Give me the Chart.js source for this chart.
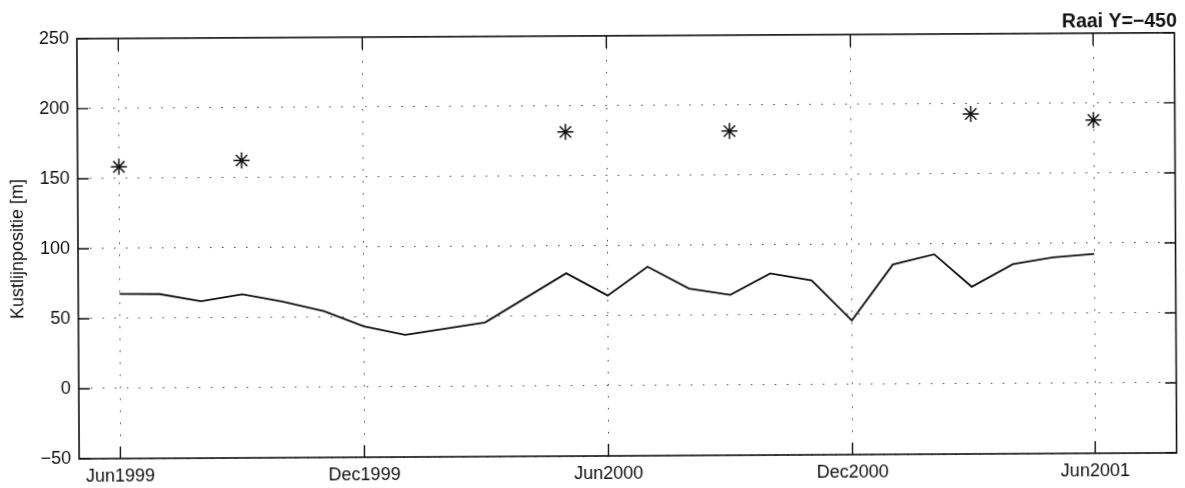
<!DOCTYPE html>
<html>
<head>
<meta charset="utf-8">
<script src="https://cdn.jsdelivr.net/npm/chart.js@4/dist/chart.umd.min.js"></script>
<style>
  html, body { margin: 0; padding: 0; background: #fff; overflow: hidden; }
  /* the scanned figure is tilted a little */
  #kust { display: block; transform: rotate(-0.31deg); transform-origin: 50% 50%; }
</style>
</head>
<body>
<canvas id="kust" width="1185" height="488"></canvas>
<script>
// measured shoreline position, monthly
const lineDates = ['1999-06-01', '1999-07-01', '1999-08-01', '1999-09-01', '1999-10-01', '1999-11-01',
    '1999-12-01', '2000-01-01', '2000-03-01', '2000-05-01', '2000-06-01', '2000-07-01',
    '2000-08-01', '2000-09-01', '2000-10-01', '2000-11-01', '2000-12-01', '2001-01-01',
    '2001-02-01', '2001-03-01', '2001-04-01', '2001-05-01', '2001-06-01'];
const lineValues = [67.5, 67.3, 62.0, 66.8, 61.5, 54.5,
    43.5, 37.2, 45.8, 80.6, 64.5, 85.0,
    69.2, 64.5, 79.7, 74.5, 45.8, 85.6,
    92.7, 69.4, 85.4, 90.1, 92.4];

// asterisk series
const starDates = ['1999-06-01', '1999-09-01', '2000-05-01', '2000-09-01', '2001-03-01', '2001-06-01'];
const starValues = [158.3, 162.4, 181.5, 181.5, 192.8, 188.0];

const tickDates = ['1999-06-01', '1999-12-01', '2000-06-01', '2000-12-01', '2001-06-01'];
const tickLabels = ['Jun1999', 'Dec1999', 'Jun2000', 'Dec2000', 'Jun2001'];
const xRange = ['1999-05-01', '2001-08-01'];
const yTicks = [-50, 0, 50, 100, 150, 200, 250];

const toDay = s => Date.UTC(+s.slice(0, 4), +s.slice(5, 7) - 1, +s.slice(8, 10)) / 864e5;

const FONT = '"Liberation Sans", Arial, Helvetica, sans-serif';
const INK = '#111';

// matlab style box with inward ticks on all four sides
const boxPlugin = {
    id: 'box',
    afterDraw(chart) {
        const {ctx, chartArea: a, scales: {x, y}} = chart;
        ctx.save();
        ctx.strokeStyle = INK;
        ctx.lineWidth = 1.6;
        ctx.strokeRect(a.left, a.top, a.right - a.left, a.bottom - a.top);
        ctx.lineWidth = 1.4;
        ctx.beginPath();
        yTicks.forEach(v => {
            const py = y.getPixelForValue(v);
            ctx.moveTo(a.left, py); ctx.lineTo(a.left + 11, py);
            ctx.moveTo(a.right, py); ctx.lineTo(a.right - 11, py);
        });
        tickDates.forEach(d => {
            const px = x.getPixelForValue(toDay(d));
            ctx.moveTo(px, a.bottom); ctx.lineTo(px, a.bottom - 12);
            ctx.moveTo(px, a.top); ctx.lineTo(px, a.top + 12);
        });
        ctx.stroke();
        ctx.restore();
    }
};

new Chart(document.getElementById('kust'), {
    type: 'line',
    data: {
        datasets: [
            {
                label: 'kustlijn',
                data: lineDates.map((d, i) => ({x: toDay(d), y: lineValues[i]})),
                borderColor: INK,
                borderWidth: 1.8,
                pointRadius: 0,
                tension: 0,
                fill: false
            },
            {
                label: 'metingen',
                data: starDates.map((d, i) => ({x: toDay(d), y: starValues[i]})),
                showLine: false,
                pointStyle: 'star',
                pointRadius: 8,
                pointBorderWidth: 1.5,
                borderColor: INK,
                backgroundColor: INK
            }
        ]
    },
    options: {
        responsive: false,
        animation: false,
        layout: {padding: {left: 0, right: 7, top: 0, bottom: 0}},
        scales: {
            x: {
                type: 'linear',
                min: toDay(xRange[0]),
                max: toDay(xRange[1]),
                afterBuildTicks: scale => {
                    scale.ticks = tickDates.map(d => ({value: toDay(d)}));
                },
                afterFit: scale => { scale.height = 32; },
                ticks: {
                    autoSkip: false,
                    maxRotation: 0,
                    padding: 7,
                    color: INK,
                    font: {family: FONT, size: 18},
                    callback: (v, i) => tickLabels[i]
                },
                grid: {color: '#444', lineWidth: 1, drawTicks: false},
                border: {display: false, dash: [1.5, 10.5]}
            },
            y: {
                min: -50,
                max: 250,
                afterBuildTicks: scale => {
                    scale.ticks = yTicks.map(v => ({value: v}));
                },
                afterFit: scale => { scale.width = 78; },
                ticks: {
                    padding: 8,
                    color: INK,
                    font: {family: FONT, size: 18},
                    callback: v => v < 0 ? '\u2212' + Math.abs(v) : String(v)
                },
                grid: {color: '#444', lineWidth: 1, drawTicks: false},
                border: {display: false, dash: [1.5, 10.5]},
                title: {
                    display: true,
                    text: 'Kustlijnpositie [m]',
                    color: INK,
                    font: {family: FONT, size: 18},
                    padding: {top: 7.5, bottom: 0}
                }
            }
        },
        plugins: {
            legend: {display: false},
            tooltip: {enabled: false},
            title: {
                display: true,
                text: 'Raai Y=\u2212450',
                align: 'end',
                color: INK,
                font: {family: FONT, size: 19.5, weight: 'bold'},
                padding: {top: 12.5, bottom: 0}
            }
        }
    },
    plugins: [boxPlugin]
});
</script>
</body>
</html>
